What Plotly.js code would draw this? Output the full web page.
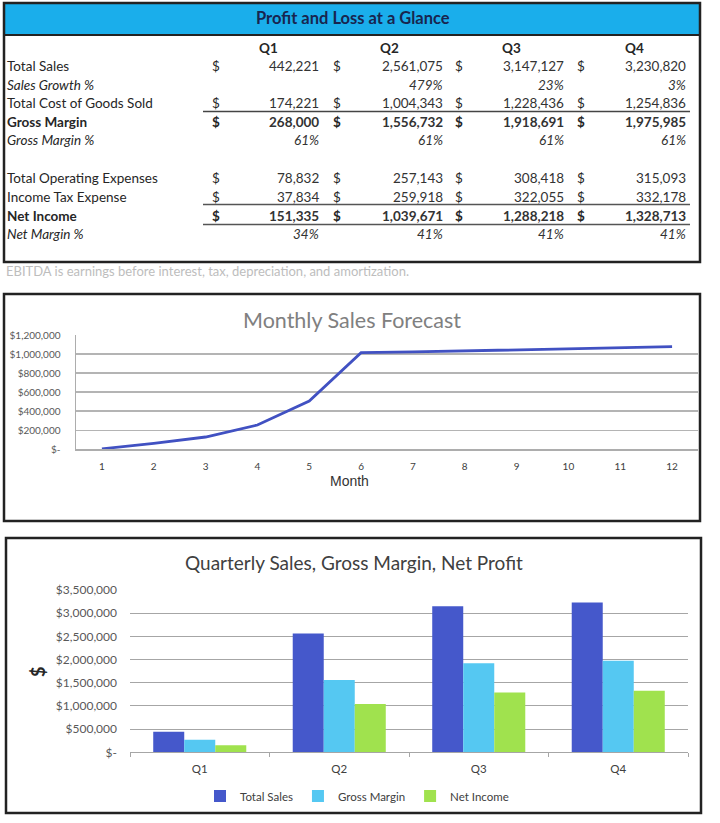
<!DOCTYPE html>
<html>
<head>
<meta charset="utf-8">
<script src="https://cdn.plot.ly/plotly-3.0.1.min.js"></script>
<style>
  html, body { margin: 0; padding: 0; background: #ffffff; }
  #chart { width: 720px; height: 823px; }
</style>
</head>
<body>
<div id="chart"></div>
<script>
// ---------------- DATA ----------------
const quarters = ['Q1', 'Q2', 'Q3', 'Q4'];
const rowLabels = ['Total Sales', 'Sales Growth %', 'Total Cost of Goods Sold', 'Gross Margin', 'Gross Margin %',
                   'Total Operating Expenses', 'Income Tax Expense', 'Net Income', 'Net Margin %'];
const totalSales = [442221, 2561075, 3147127, 3230820];
const salesGrowth = ['', '479%', '23%', '3%'];
const costOfGoods = [174221, 1004343, 1228436, 1254836];
const grossMargin = [268000, 1556732, 1918691, 1975985];
const grossMarginPct = ['61%', '61%', '61%', '61%'];
const operatingExpenses = [78832, 257143, 308418, 315093];
const incomeTax = [37834, 259918, 322055, 332178];
const netIncome = [151335, 1039671, 1288218, 1328713];
const netMarginPct = ['34%', '41%', '41%', '41%'];
const footnote = 'EBITDA is earnings before interest, tax, depreciation, and amortization.';

const months = [1, 2, 3, 4, 5, 6, 7, 8, 9, 10, 11, 12];
const monthlySales = [5000, 63000, 129000, 255000, 507000, 1014000, 1022000, 1032000, 1042000, 1050000, 1062000, 1077000];
const lineTickVals = [0, 200000, 400000, 600000, 800000, 1000000, 1200000];
const lineTickText = ['$-', '$200,000', '$400,000', '$600,000', '$800,000', '$1,000,000', '$1,200,000'];

const barSeriesNames = ['Total Sales', 'Gross Margin', 'Net Income'];
const barTickVals = [0, 500000, 1000000, 1500000, 2000000, 2500000, 3000000, 3500000];
const barTickText = ['$-', '$500,000', '$1,000,000', '$1,500,000', '$2,000,000', '$2,500,000', '$3,000,000', '$3,500,000'];

// ---------------- HELPERS ----------------
const W = 720, H = 823;
const X = px => px / W;
const Y = py => 1 - py / H;
const FONT = 'Lato, "Open Sans", sans-serif';
const fmt = v => (typeof v === 'number') ? v.toLocaleString('en-US') : v;

const annotations = [];
const shapes = [];
function txt(text, px, py, opts) {
  opts = opts || {};
  annotations.push({
    text: text, x: X(px), y: Y(py), xref: 'paper', yref: 'paper',
    showarrow: false, xanchor: opts.xanchor || 'left', yanchor: 'middle',
    textangle: opts.angle || 0,
    font: { family: opts.family || FONT, size: opts.size || 13, color: opts.color || '#262626' }
  });
}
function line(x0, y0, x1, y1, color, width) {
  shapes.push({ type: 'line', xref: 'paper', yref: 'paper', x0: X(x0), y0: Y(y0), x1: X(x1), y1: Y(y1),
    line: { color: color, width: width } });
}
function rect(x0, y0, x1, y1, lineColor, width, fill) {
  shapes.push({ type: 'rect', xref: 'paper', yref: 'paper', x0: X(x0), y0: Y(y1), x1: X(x1), y1: Y(y0),
    line: { color: lineColor, width: width }, fillcolor: fill || 'rgba(0,0,0,0)', layer: 'below' });
}

// ---------------- TABLE ----------------
const TS = 13.5;
rect(4, 3, 700, 35, 'rgba(0,0,0,0)', 0, '#1AAEEB');
rect(4, 3, 700, 262, '#222222', 2.5);
line(4, 35, 700, 35, '#222222', 2);
txt('<b>Profit and Loss at a Glance</b>', 353, 18, { xanchor: 'center', size: 16.5, color: '#18254F' });

const headerX = [257, 378, 500, 623];
quarters.forEach((q, i) => txt('<b>' + q + '</b>', headerX[i], 48, { size: TS }));

const rowData = [totalSales, salesGrowth, costOfGoods, grossMargin, grossMarginPct,
                 operatingExpenses, incomeTax, netIncome, netMarginPct];
const rowY = [66, 84.5, 103, 121.5, 140, 178, 196.5, 215.5, 234];
const rowStyle = ['n', 'i', 'n', 'b', 'i', 'n', 'n', 'b', 'i'];
const dollarX = [215.5, 337, 459, 581];
const valueRight = [321, 445, 566, 688];
const wrap = (s, st) => st === 'b' ? '<b>' + s + '</b>' : (st === 'i' ? '<i>' + s + '</i>' : s);

rowLabels.forEach((lab, r) => {
  const st = rowStyle[r];
  txt(wrap(lab, st), 5, rowY[r], { size: TS });
  rowData[r].forEach((v, c) => {
    if (typeof v === 'number') {
      txt(wrap('$', st), dollarX[c], rowY[r], { xanchor: 'center', size: TS });
    }
    txt(wrap(fmt(v), st), valueRight[c], rowY[r], { xanchor: 'right', size: TS, color: '#333333' });
  });
});
line(203, 111.5, 690, 111.5, '#444444', 1.5);
line(203, 204.5, 690, 204.5, '#555555', 1.5);
line(203, 224.5, 690, 224.5, '#555555', 1.5);

txt(footnote, 4, 271, { size: 13, color: '#BDBDBD' });

// ---------------- LINE CHART FRAME ----------------
rect(4, 294, 700, 521, '#222222', 2.5);
txt('Monthly Sales Forecast', 352, 320, { xanchor: 'center', size: 21.5, color: '#808080' });
txt('Month', 349, 481, { xanchor: 'center', size: 14, color: '#333333', family: '"Liberation Sans", Arial, sans-serif' });

// ---------------- BAR CHART FRAME ----------------
rect(6, 538, 701, 813, '#222222', 2.5);
txt('Quarterly Sales, Gross Margin, Net Profit', 354, 562, { xanchor: 'center', size: 19, color: '#404040' });
txt('<b>$</b>', 38, 672, { xanchor: 'center', size: 18, color: '#262626', angle: -90 });

// ---------------- TRACES ----------------
const traces = [
  {
    type: 'scatter', mode: 'lines', x: months, y: monthlySales,
    xaxis: 'x', yaxis: 'y', showlegend: false,
    line: { color: '#4151C2', width: 2.8 }, hoverinfo: 'x+y'
  },
  { type: 'bar', name: barSeriesNames[0], x: quarters, y: totalSales, xaxis: 'x2', yaxis: 'y2', marker: { color: '#4558CB' } },
  { type: 'bar', name: barSeriesNames[1], x: quarters, y: grossMargin, xaxis: 'x2', yaxis: 'y2', marker: { color: '#55C8F2' } },
  { type: 'bar', name: barSeriesNames[2], x: quarters, y: netIncome, xaxis: 'x2', yaxis: 'y2', marker: { color: '#A0E24E' } }
];

const layout = {
  width: W, height: H,
  margin: { l: 0, r: 0, t: 0, b: 0 },
  paper_bgcolor: '#ffffff', plot_bgcolor: 'rgba(0,0,0,0)',
  font: { family: FONT, color: '#595959' },
  barmode: 'group', bargap: 0.333, bargroupgap: 0,
  showlegend: true,
  legend: {
    orientation: 'h', x: X(357), xanchor: 'center', y: Y(796), yanchor: 'middle',
    font: { family: FONT, size: 11.5, color: '#404040' }, itemwidth: 30, bgcolor: 'rgba(0,0,0,0)'
  },
  xaxis: {
    domain: [X(76), X(698)], anchor: 'y', range: [0.5, 12.5],
    tickvals: months, ticks: '', showgrid: false, zeroline: false,
    showline: true, linecolor: '#ADADAD', linewidth: 1.5,
    tickfont: { family: FONT, size: 10, color: '#404040' }, ticklabelstandoff: 7, fixedrange: true
  },
  yaxis: {
    domain: [Y(449.3), Y(335)], anchor: 'x', range: [0, 1200000],
    tickvals: lineTickVals, ticktext: lineTickText, ticks: '',
    showgrid: true, gridcolor: '#B4B4B4', gridwidth: 1.5, zeroline: false,
    showline: true, linecolor: '#ADADAD', linewidth: 1.5,
    tickfont: { family: FONT, size: 10, color: '#595959' }, ticklabelstandoff: 12, fixedrange: true
  },
  xaxis2: {
    domain: [X(130), X(688)], anchor: 'y2', type: 'category',
    tickson: 'boundaries', ticks: 'outside', ticklen: 4, tickcolor: '#A6A6A6', tickwidth: 1,
    showgrid: false, zeroline: false, showline: true, linecolor: '#A6A6A6', linewidth: 1,
    tickfont: { family: FONT, size: 11.5, color: '#404040' }, ticklabelstandoff: 6, fixedrange: true
  },
  yaxis2: {
    domain: [Y(752.3), Y(590)], anchor: 'x2', range: [0, 3500000],
    tickvals: barTickVals, ticktext: barTickText, ticks: '',
    showgrid: true, gridcolor: '#A6A6A6', gridwidth: 1, zeroline: false, showline: false,
    tickfont: { family: FONT, size: 12, color: '#595959' }, ticklabelstandoff: 12, fixedrange: true
  },
  annotations: annotations,
  shapes: shapes
};

Plotly.newPlot('chart', traces, layout, { displayModeBar: false, staticPlot: true });
</script>
</body>
</html>
